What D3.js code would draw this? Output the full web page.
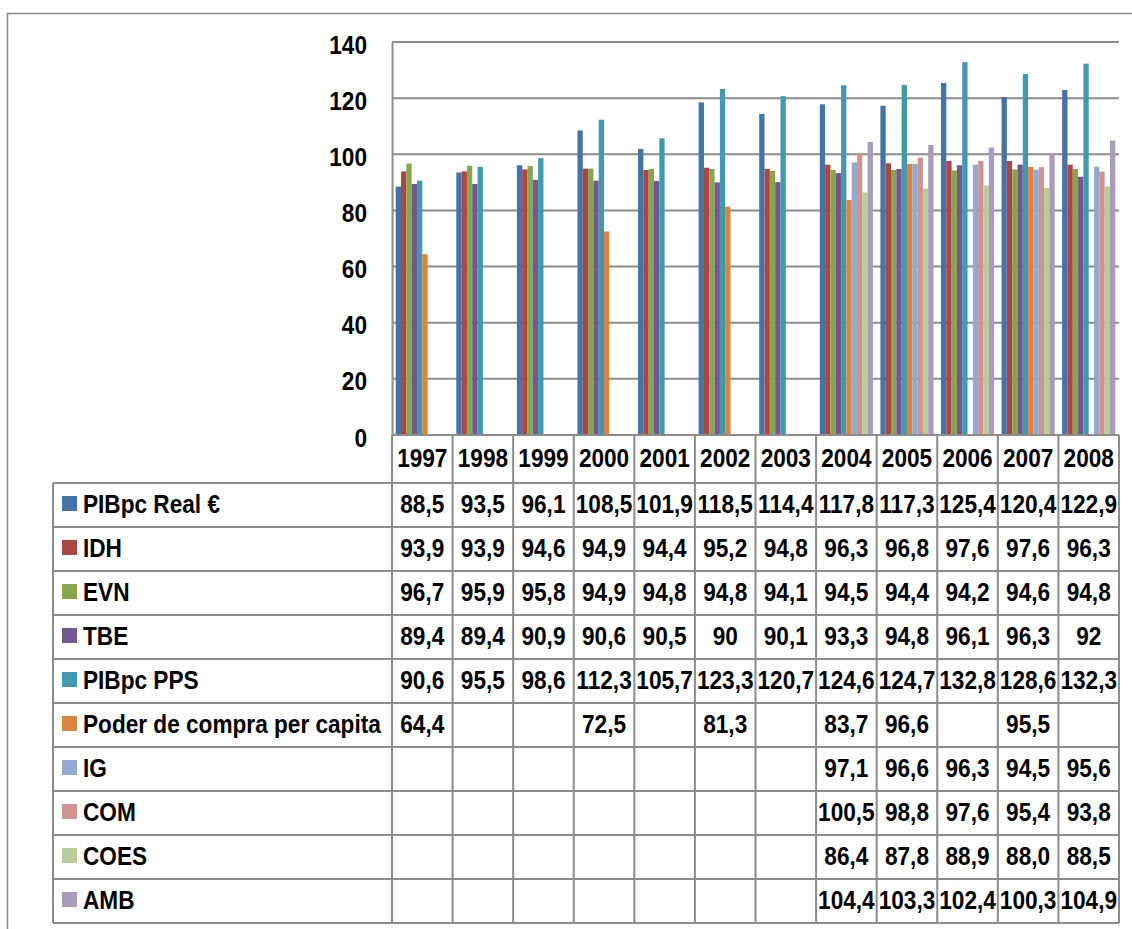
<!DOCTYPE html>
<html><head><meta charset="utf-8">
<script src="https://cdn.jsdelivr.net/npm/d3@7"></script>
<style>
html,body{margin:0;padding:0;background:#fff;}
svg text{font-family:"Liberation Sans Narrow","Arial Narrow","Liberation Sans",Arial,sans-serif;font-weight:bold;fill:#000;}
</style></head>
<body>
<svg id="c" width="1132" height="929"></svg>
<script>
const years = ["1997","1998","1999","2000","2001","2002","2003","2004","2005","2006","2007","2008"];
const seriesNames = ["PIBpc Real €","IDH","EVN","TBE","PIBpc PPS","Poder de compra per capita","IG","COM","COES","AMB"];
const seriesColors = ["#4572A7","#AA4643","#89A54E","#71588F","#4198AF","#DB843D","#93A9CF","#D19392","#B9CD96","#A99BBD"];
const pibReal = ["88,5","93,5","96,1","108,5","101,9","118,5","114,4","117,8","117,3","125,4","120,4","122,9"];
const idh     = ["93,9","93,9","94,6","94,9","94,4","95,2","94,8","96,3","96,8","97,6","97,6","96,3"];
const evn     = ["96,7","95,9","95,8","94,9","94,8","94,8","94,1","94,5","94,4","94,2","94,6","94,8"];
const tbe     = ["89,4","89,4","90,9","90,6","90,5","90","90,1","93,3","94,8","96,1","96,3","92"];
const pibPps  = ["90,6","95,5","98,6","112,3","105,7","123,3","120,7","124,6","124,7","132,8","128,6","132,3"];
const poder   = ["64,4",null,null,"72,5",null,"81,3",null,"83,7","96,6",null,"95,5",null];
const ig      = [null,null,null,null,null,null,null,"97,1","96,6","96,3","94,5","95,6"];
const com     = [null,null,null,null,null,null,null,"100,5","98,8","97,6","95,4","93,8"];
const coes    = [null,null,null,null,null,null,null,"86,4","87,8","88,9","88,0","88,5"];
const amb     = [null,null,null,null,null,null,null,"104,4","103,3","102,4","100,3","104,9"];
const yTicks  = [0,20,40,60,80,100,120,140];

const seriesValues = [pibReal, idh, evn, tbe, pibPps, poder, ig, com, coes, amb];
const num = s => s == null ? null : +s.replace(",", ".");

// ---- layout ----
const svg = d3.select("#c");
const plotL = 392, plotR = 1119, plotT = 42, base = 435;
const tableL = 53, headerB = 483, rowH = 44;
const lineCol = "#8c8c8c";
const FS = 26, SX = 0.87; // condensed bold text

function label(g, x, y, txt, anchor) {
  return g.append("text")
    .attr("transform", `translate(${x},${y}) scale(${SX},1)`)
    .attr("text-anchor", anchor || "start")
    .attr("dominant-baseline", "central")
    .attr("font-size", FS)
    .text(txt);
}

// outer frame
svg.append("path").attr("d", "M7.5,929 V13.5 H1132").attr("fill","none").attr("stroke","#8a8a8a").attr("stroke-width",1.5);

const x = d3.scaleBand().domain(years).range([plotL, plotR]).padding(0);
const xs = d3.scaleBand().domain(d3.range(seriesNames.length)).range([0, x.bandwidth()]).paddingInner(0).paddingOuter(0.7);
const y = d3.scaleLinear().domain([0, 140]).range([base, plotT]);

// gridlines
svg.append("g").selectAll("line").data(yTicks.filter(t => t > 0)).join("line")
  .attr("x1", plotL).attr("x2", plotR).attr("y1", d => y(d)).attr("y2", d => y(d))
  .attr("stroke", lineCol).attr("stroke-width", 2);

// bars
const barData = [];
seriesValues.forEach((arr, si) => arr.forEach((v, yi) => { if (v != null) barData.push({si, year: years[yi], v: num(v)}); }));
svg.append("g").selectAll("rect").data(barData).join("rect")
  .attr("x", d => x(d.year) + xs(d.si))
  .attr("width", xs.bandwidth())
  .attr("y", d => y(d.v))
  .attr("height", d => base - y(d.v))
  .attr("fill", d => seriesColors[d.si]);

// y axis
const yAxis = d3.axisLeft(y).tickValues(yTicks).tickSize(0).tickFormat(d => d);
const ga = svg.append("g").attr("transform", `translate(${plotL},0)`).call(yAxis);
ga.select(".domain").attr("stroke", lineCol).attr("stroke-width", 2);
ga.selectAll("text")
  .attr("x", null).attr("dy", null).attr("font-family", null).attr("font-size", FS)
  .attr("text-anchor", "end").attr("dominant-baseline", "central")
  .attr("transform", `translate(-25,2) scale(${SX},1)`);

// ---- data table ----
const tableB = headerB + rowH * seriesNames.length;
const tg = svg.append("g");
tg.append("line").attr("x1", plotL).attr("x2", plotR).attr("y1", base).attr("y2", base).attr("stroke", lineCol).attr("stroke-width", 2);
d3.range(seriesNames.length + 1).forEach(i => {
  tg.append("line").attr("x1", tableL).attr("x2", plotR).attr("y1", headerB + i * rowH).attr("y2", headerB + i * rowH)
    .attr("stroke", lineCol).attr("stroke-width", 2);
});
tg.append("line").attr("x1", tableL).attr("x2", tableL).attr("y1", headerB).attr("y2", tableB).attr("stroke", lineCol).attr("stroke-width", 2);
years.concat(["end"]).forEach((yr, i) => {
  const xx = i < years.length ? x(yr) : plotR;
  tg.append("line").attr("x1", xx).attr("x2", xx).attr("y1", base).attr("y2", tableB).attr("stroke", lineCol).attr("stroke-width", 2);
});
// year headers
years.forEach(yr => label(tg, x(yr) + x.bandwidth()/2, (base + headerB)/2 - 1, yr, "middle"));
// legend column + values
seriesNames.forEach((name, si) => {
  const cy = headerB + si * rowH + rowH/2 - 1.5;
  tg.append("rect").attr("x", 62).attr("y", cy - 7.5).attr("width", 15).attr("height", 15).attr("fill", seriesColors[si]);
  label(tg, 83, cy, name, "start");
  seriesValues[si].forEach((v, yi) => {
    if (v == null) return;
    label(tg, x(years[yi]) + x.bandwidth()/2, cy, v, "middle");
  });
});
</script>
</body></html>
